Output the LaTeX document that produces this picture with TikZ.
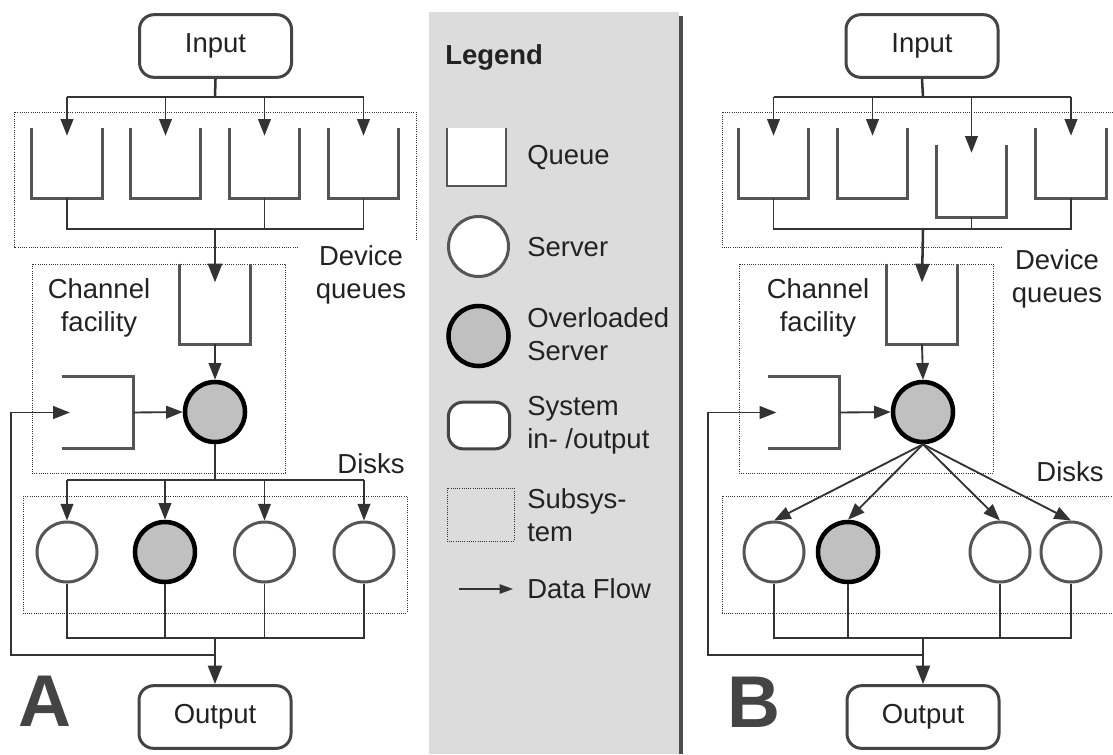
\documentclass[tikz,border=0pt]{standalone}
\usepackage{fontspec}
\setmainfont{Liberation Sans}
\usetikzlibrary{arrows.meta}
\definecolor{ink}{HTML}{222222}
\definecolor{boxgray}{HTML}{444444}
\definecolor{wallgray}{HTML}{555555}
\definecolor{linegray}{HTML}{333333}
\definecolor{ovlfill}{HTML}{C0C0C0}
\definecolor{legbg}{HTML}{DCDCDC}
\definecolor{bargray}{HTML}{4D4D4D}
\newcommand\lblfont{\fontsize{20.6}{25}\selectfont}
\newcommand\ushape[2][wall]{\draw[#1] (#2.north west) -- (#2.south west) -- (#2.south east) -- (#2.north east);}
\newcommand\sideshape[1]{\draw[wall] (#1.north west) -- (#1.north east) -- (#1.south east) -- (#1.south west);}
\begin{document}
\begin{tikzpicture}[x=0.75pt,y=-0.75pt,
  io/.style={draw=boxgray, line width=2.25pt, rounded corners=11pt, fill=white,
    minimum width=114pt, minimum height=47pt, inner sep=0, font=\lblfont, text=ink},
  queue/.style={minimum width=52.5pt, minimum height=52.5pt, inner sep=0},
  wall/.style={draw=wallgray, line width=2.3pt, line join=miter},
  srv/.style={circle, draw=wallgray, line width=2.25pt, fill=white, minimum size=45pt, inner sep=0},
  ovl/.style={srv, draw=black, line width=3.4pt, fill=ovlfill},
  conn/.style={draw=linegray, line width=1.4pt},
  trunk/.style={conn, line width=1.9pt},
  flow/.style={conn, -{Triangle[length=12.5pt,width=9.5pt]}},
  bigflow/.style={trunk, -{Triangle[length=14pt,width=10.5pt]}},
  sub/.style={draw=linegray, line width=0.75pt, dash pattern=on 0.75pt off 0.9pt},
  lbl/.style={font=\lblfont, text=ink, align=center, inner sep=0},
  leglbl/.style={lbl, align=left, anchor=west},
  panel/.style={font=\fontsize{55}{55}\selectfont\bfseries, text=boxgray, inner sep=0}]
\useasboundingbox (0,0) rectangle (1113,754);
\clip (0,0) rectangle (1113,754);

% ---------------- legend column ----------------
\fill[legbg] (429,12) rectangle (679,754);
\draw[bargray, line width=3.4pt] (681,16) -- (681,754);
\node[lbl, font=\lblfont\bfseries, anchor=west] (legtitle) at (445,57) {Legend};
\node[queue, fill=white, minimum width=44pt, minimum height=43.5pt] (lq) at (476.5,157) {};
\ushape[wall, line width=1.6pt]{lq}
\node[leglbl] (lqt) at (527,157) {Queue};
\node[srv] (ls) at (478.5,246.5) {};
\node[leglbl] (lst) at (527,247) {Server};
\node[ovl] (lo) at (478.5,336) {};
\node[leglbl] (lot) at (527,334) {Overloaded\\Server};
\node[io, minimum width=46pt, minimum height=35pt] (lio) at (479,425.5) {};
\node[leglbl] (liot) at (527,425) {System\\in- /output};
\draw[sub] (447,488) rectangle (514,541);
\node[leglbl] (lsubt) at (527,515) {Subsys-\\tem};
\coordinate (lfa) at (459,589);
\coordinate (lfb) at (513,589);
\draw[conn, line width=1.1pt, -{Triangle[length=10pt,width=7pt]}] (lfa) -- (lfb);
\node[leglbl] (lft) at (527,589) {Data Flow};

% ---------------- panel A ----------------
\draw[sub] (298,247) -- (14,247) -- (14,112) -- (416,112) -- (416,240);
\draw[sub] (32,264) rectangle (285,473);
\draw[sub] (23,496) rectangle (407,613);
\node[lbl] (devA) at (361,275) {Device\\queues};
\node[lbl] (chA) at (99,308) {Channel\\facility};
\node[lbl] (dkA) at (371,464) {Disks};
\node[panel] (labA) at (44.5,701.5) {A};

\node[io] (inA) at (215.5,46) {Input};
\node[io] (outA) at (215,717) {Output};
\node[queue] (qa1) at (67,163) {};
\node[queue] (qa2) at (165.5,163) {};
\node[queue] (qa3) at (264.5,163) {};
\node[queue] (qa4) at (363.5,163) {};
\foreach \q in {qa1,qa2,qa3,qa4}{\ushape{\q}}
\node[queue, minimum height=60pt] (qca) at (215,304) {};
\ushape{qca}
\node[queue, minimum width=53pt, minimum height=53pt] (qsa) at (97.5,412.5) {};
\sideshape{qsa}
\node[ovl] (sa) at (215,412) {};
\node[srv] (da1) at (67,552) {};
\node[ovl] (da2) at (165,552) {};
\node[srv] (da3) at (264.5,552) {};
\node[srv] (da4) at (364,552) {};

\coordinate (taA) at (215,97);
\coordinate (jaA) at (215,229);
\coordinate (jdA) at (215,480);
\coordinate (joA) at (215,638);
\coordinate (jfA) at (215,655);
\coordinate (fbA) at (11,655);

\draw[trunk] (inA.south) -- (taA);
\draw[conn] (taA -| qa1) -- (taA -| qa4);
\foreach \q in {qa1,qa2,qa3,qa4}{\draw[flow] (taA -| \q) -- ([yshift=-6pt]\q.north);}
\draw[conn] (qa1.south) -- (jaA -| qa1) -- (jaA -| qa4) -- (qa4.south);
\draw[conn] (qa3.south) -- (jaA -| qa3);
\draw[bigflow] (jaA) -- ([yshift=-14pt]qca.north);
\draw[flow] (qca.south) -- (sa.north);
\draw[flow] (qsa.east) -- (sa.west);
\draw[trunk] (sa.south) -- (jdA);
\draw[conn] (jdA -| da1) -- (jdA -| da4);
\foreach \d in {da1,da2,da3,da4}{\draw[flow] (jdA -| \d) -- (\d.north);}
\draw[conn] (da1.south) -- (joA -| da1) -- (joA -| da4) -- (da4.south);
\draw[conn] (da2.south) -- (joA -| da2);
\draw[conn] (da3.south) -- (joA -| da3);
\draw[bigflow] (joA) -- (outA.north);
\draw[flow] (jfA) -- (fbA) |- ([xshift=6pt]qsa.west);

% ---------------- panel B ----------------
\draw[sub] (1002,247) -- (722,247) -- (722,112) -- (1125,112);
\draw[sub] (739,264) rectangle (993,473);
\draw[sub] (1125,613) -- (722,613) -- (722,496) -- (1125,496);
\node[lbl] (devB) at (1057,279) {Device\\queues};
\node[lbl] (chB) at (818,308) {Channel\\facility};
\node[lbl] (dkB) at (1070,472) {Disks};
\node[panel] (labB) at (753.5,702.5) {B};

\node[io] (inB) at (922,46) {Input};
\node[io] (outB) at (923,717) {Output};
\node[queue] (qb1) at (773.5,163) {};
\node[queue] (qb2) at (872.5,163) {};
\node[queue, minimum height=54pt] (qb3) at (971.5,181) {};
\node[queue] (qb4) at (1071,163) {};
\foreach \q in {qb1,qb2,qb3,qb4}{\ushape{\q}}
\node[queue, minimum height=60pt] (qcb) at (922,304) {};
\ushape{qcb}
\node[queue, minimum width=53pt, minimum height=53pt] (qsb) at (804,412.5) {};
\sideshape{qsb}
\node[ovl] (sb) at (923,412) {};
\node[srv] (db1) at (774,552) {};
\node[ovl] (db2) at (848,552) {};
\node[srv] (db3) at (1000,552) {};
\node[srv] (db4) at (1071,552) {};

\coordinate (taB) at (923,97);
\coordinate (jaB) at (923,229);
\coordinate (joB) at (923,638);
\coordinate (jfB) at (923,655);
\coordinate (fbB) at (708,655);

\draw[trunk] (inB.south) -- (taB);
\draw[conn] (taB -| qb1) -- (taB -| qb4);
\foreach \q in {qb1,qb2,qb3,qb4}{\draw[flow] (taB -| \q) -- ([yshift=-6pt]\q.north);}
\draw[conn] (qb1.south) -- (jaB -| qb1) -- (jaB -| qb4) -- (qb4.south);
\draw[conn] (qb3.south) -- (jaB -| qb3);
\draw[bigflow] (jaB) -- ([yshift=-14pt]qcb.north);
\draw[flow] (qcb.south) -- (sb.north);
\draw[flow] (qsb.east) -- (sb.west);
\foreach \d in {db1,db2,db3,db4}{\draw[flow] (sb.south) -- (\d.north);}
\draw[conn] (db1.south) -- (joB -| db1) -- (joB -| db4) -- (db4.south);
\draw[conn] (db2.south) -- (joB -| db2);
\draw[conn] (db3.south) -- (joB -| db3);
\draw[bigflow] (joB) -- (outB.north);
\draw[flow] (jfB) -- (fbB) |- ([xshift=6pt]qsb.west);
\end{tikzpicture}
\end{document}
